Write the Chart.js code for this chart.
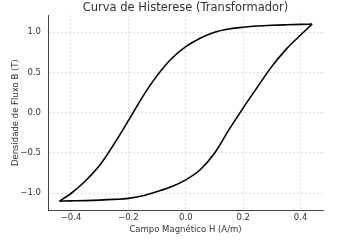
<!DOCTYPE html>
<html>
<head>
<meta charset="utf-8">
<script src="https://cdn.jsdelivr.net/npm/chart.js@4"></script>
<style>
  body { margin: 0; background: #fff; }
</style>
</head>
<body>
<canvas id="myChart" width="338" height="240"></canvas>
<script>
// campo H (A/m)
var campoH = [-0.44, -0.40, -0.35, -0.30, -0.25, -0.20, -0.15, -0.10, -0.05, 0.00,
              0.05, 0.10, 0.15, 0.20, 0.25, 0.30, 0.35, 0.40, 0.44];
// ramo superior (descendo)
var ramoSuperior = [-1.10, -1.005, -0.85, -0.655, -0.39, -0.10, 0.20, 0.46, 0.67, 0.82,
                    0.925, 1.00, 1.04, 1.062, 1.077, 1.086, 1.092, 1.097, 1.10];
// ramo inferior (subindo)
var ramoInferior = [-1.10, -1.097, -1.093, -1.087, -1.078, -1.065, -1.032, -0.98, -0.92, -0.835,
                    -0.71, -0.505, -0.215, 0.06, 0.32, 0.575, 0.79, 0.965, 1.10];
var ticksX = [-0.4, -0.2, 0.0, 0.2, 0.4];
var ticksY = [-1.0, -0.5, 0.0, 0.5, 1.0];

function pontos(ys) {
  return campoH.map(function (h, i) { return { x: h, y: ys[i] }; });
}
function fmt(v) {
  return v.toFixed(1).replace('-', '\u2212');
}

var fonte = "'DejaVu Sans', sans-serif";
var corTexto = '#333';
var grade = { color: '#d4d4d4', lineWidth: 0.8, drawTicks: false };
var borda = { color: '#444', width: 1, dash: [2, 2] };

var ctx = document.getElementById('myChart');
var myChart = new Chart(ctx, {
  type: 'line',
  data: {
    datasets: [
      { data: pontos(ramoSuperior), borderColor: '#000', borderWidth: 1.6,
        pointRadius: 0, cubicInterpolationMode: 'monotone', fill: false },
      { data: pontos(ramoInferior), borderColor: '#000', borderWidth: 1.6,
        pointRadius: 0, cubicInterpolationMode: 'monotone', fill: false }
    ]
  },
  options: {
    responsive: false,
    animation: false,
    devicePixelRatio: 1,
    layout: { padding: { left: 0, right: 15, top: 0, bottom: 0 } },
    plugins: {
      legend: { display: false },
      tooltip: { enabled: false },
      title: {
        display: true,
        fullSize: false,
        text: 'Curva de Histerese (Transformador)',
        color: corTexto,
        font: { family: fonte, size: 11.5, weight: 'normal' },
        padding: { top: 1.5, bottom: 0 }
      }
    },
    scales: {
      x: {
        type: 'linear',
        min: -0.48,
        max: 0.478,
        afterFit: function (s) { s.height = 30; },
        afterBuildTicks: function (s) { s.ticks = ticksX.map(function (v) { return { value: v }; }); },
        grid: grade,
        border: borda,
        ticks: { padding: 3, color: corTexto, font: { family: fonte, size: 8.5 },
                 callback: function (v) { return fmt(v); } },
        title: { display: true, text: 'Campo Magnético H (A/m)', color: corTexto,
                 font: { family: fonte, size: 8.5 }, padding: { top: 2, bottom: 5 } }
      },
      y: {
        type: 'linear',
        min: -1.21,
        max: 1.21,
        afterFit: function (s) { s.width = 48; },
        afterBuildTicks: function (s) { s.ticks = ticksY.map(function (v) { return { value: v }; }); },
        grid: grade,
        border: borda,
        ticks: { padding: 7, color: corTexto, font: { family: fonte, size: 8.5 },
                 callback: function (v) { return fmt(v); } },
        title: { display: true, text: 'Densidade de Fluxo B (T)', color: corTexto,
                 font: { family: fonte, size: 8.5 }, padding: { top: 11, bottom: 2 } }
      }
    }
  }
});
</script>
</body>
</html>
